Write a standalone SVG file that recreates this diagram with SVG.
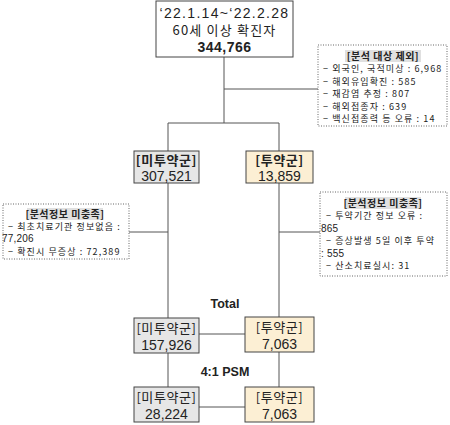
<svg xmlns="http://www.w3.org/2000/svg" width="450" height="425" viewBox="0 0 450 425">
<style>
text{font-family:"Noto Sans CJK KR","Liberation Sans",sans-serif;fill:#222;}
.n{font-family:"Liberation Sans","Noto Sans CJK KR",sans-serif;}
.b{font-size:13px;text-anchor:middle;}
.bn{font-size:14px;text-anchor:middle;}
.bold{font-weight:bold;}
.s{font-size:9px;letter-spacing:1.1px;}
.sn{font-size:10px;letter-spacing:0.2px;}
.t{font-size:10px;font-weight:bold;text-anchor:middle;letter-spacing:0.5px;}
.ln{stroke:#555;stroke-width:1;fill:none;}
.box{stroke:#444;stroke-width:1;}
.gray{fill:#e6e6e6;}
.cream{fill:#fcefd4;}
.info{fill:#fff;stroke:#666;stroke-width:1;stroke-dasharray:1,1.5;}
.hl{fill:#e0e0e0;}
.lbl{font-size:12.5px;font-weight:bold;text-anchor:middle;}
</style>
<g id="connectors">
<path class="ln" d="M224,57V123M168,123H279M224,89H318M168,123V151M279,123V151M168,183V318M279,183V317M129,232H168M279,232H320M199,334H245M168,353V387M279,352V387M199,407H245"/>
</g>
<g id="top">
<rect x="156" y="1" width="137" height="56" fill="#fff" class="box"/>
<text class="bn n" x="224.5" y="18" letter-spacing="1.3">‘22.1.14~‘22.2.28</text>
<text class="b" x="224.5" y="35" font-size="12.5" letter-spacing="1.2">60세 이상 확진자</text>
<text class="bn n bold" x="224.5" y="51.5" letter-spacing="0.5">344,766</text>
</g>
<g id="exclude">
<rect x="318" y="45" width="129" height="81" class="info"/>
<rect x="345" y="50" width="76" height="12" class="hl"/>
<text class="t" x="383" y="59.5">[분석 대상 제외]</text>
<text class="s" x="323" y="72">− 외국인, 국적미상 : 6,968</text>
<text class="s" x="323" y="84.5">− 해외유입확진 : 585</text>
<text class="s" x="323" y="97">− 재감염 추정 : 807</text>
<text class="s" x="323" y="109.5">− 해외접종자 : 639</text>
<text class="s" x="323" y="122">− 백신접종력 등 오류 : 14</text>
</g>
<g id="untreated1">
<rect x="134" y="151" width="65" height="32" class="box gray"/>
<text class="b bold" x="166.5" y="165" letter-spacing="0.6">[미투약군]</text>
<text class="bn n" x="166.5" y="181">307,521</text>
</g>
<g id="treated1">
<rect x="246" y="151" width="67" height="32" class="box cream"/>
<text class="b bold" x="279.5" y="165" letter-spacing="0.6">[투약군]</text>
<text class="bn n" x="279.5" y="181">13,859</text>
</g>
<g id="info-left">
<rect x="3" y="204" width="126" height="55" class="info"/>
<rect x="27" y="208" width="76" height="12" class="hl"/>
<text class="t" x="65" y="217.5">[분석정보 미충족]</text>
<text class="s" x="8" y="230">− 최초치료기관 정보없음 :</text>
<text class="sn n" x="2" y="242">77,206</text>
<text class="s" x="8" y="255">− 확진시 무증상 : 72,389</text>
</g>
<g id="info-right">
<rect x="320" y="192" width="127" height="84" class="info"/>
<rect x="345" y="197" width="76" height="12" class="hl"/>
<text class="t" x="383" y="206.5">[분석정보 미충족]</text>
<text class="s" x="326" y="219">− 투약기간 정보 오류 :</text>
<text class="sn n" x="321" y="231.5">865</text>
<text class="s" x="326" y="244">− 증상발생 5일 이후 투약</text>
<text class="sn n" x="321" y="256.5">: 555</text>
<text class="s" x="326" y="269">− 산소치료실시: 31</text>
</g>
<text class="lbl n" x="225" y="308">Total</text>
<g id="untreated2">
<rect x="134" y="318" width="65" height="35" class="box gray"/>
<text class="b" x="166.5" y="333" letter-spacing="0.6">[미투약군]</text>
<text class="bn n" x="166.5" y="349.5">157,926</text>
</g>
<g id="treated2">
<rect x="245" y="317" width="69" height="35" class="box cream"/>
<text class="b" x="279.5" y="332" letter-spacing="0.6">[투약군]</text>
<text class="bn n" x="279.5" y="348.5">7,063</text>
</g>
<text class="lbl n" x="225" y="376">4:1 PSM</text>
<g id="untreated3">
<rect x="134" y="387" width="65" height="35" class="box gray"/>
<text class="b" x="166.5" y="402" letter-spacing="0.6">[미투약군]</text>
<text class="bn n" x="166.5" y="418.5">28,224</text>
</g>
<g id="treated3">
<rect x="245" y="387" width="69" height="35" class="box cream"/>
<text class="b" x="279.5" y="402" letter-spacing="0.6">[투약군]</text>
<text class="bn n" x="279.5" y="418.5">7,063</text>
</g>
</svg>
